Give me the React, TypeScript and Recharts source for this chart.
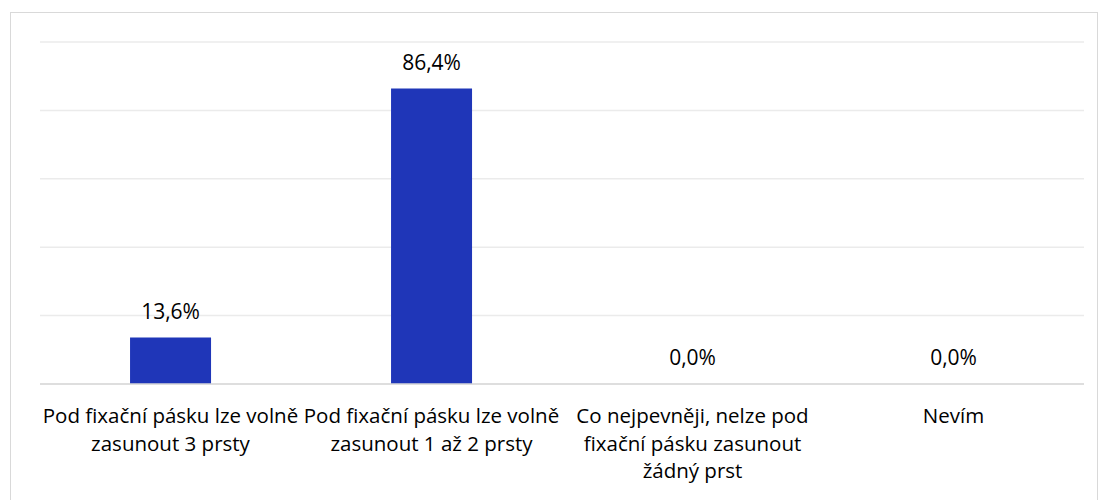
import { BarChart, Bar, XAxis, YAxis, CartesianGrid, LabelList } from "recharts";

const categories = [
  "Pod fixační pásku lze volně\nzasunout 3 prsty",
  "Pod fixační pásku lze volně\nzasunout 1 až 2 prsty",
  "Co nejpevněji, nelze pod\nfixační pásku zasunout\nžádný prst",
  "Nevím",
];
const shares = [13.6, 86.4, 0.0, 0.0];
const yTicks = [0, 20, 40, 60, 80, 100];

const data = categories.map((c, i) => ({ name: c, value: shares[i] }));

const FONT = "'Open Sans', sans-serif";

function CategoryTick({ x, y, payload }: any) {
  const lines = String(payload.value).split("\n");
  return (
    <text x={x} y={y} textAnchor="middle" fill="#000" fontSize={20.5} fontFamily={FONT}>
      {lines.map((l, i) => (
        <tspan key={i} x={x} dy={i === 0 ? 31 : 27.5}>{l}</tspan>
      ))}
    </text>
  );
}

export default function App() {
  return (
    <div style={{ position: "absolute", left: 0, top: 0, width: 1100, height: 500, overflow: "hidden", background: "#fff" }}>
      <div style={{ position: "absolute", left: 10, top: 12, width: 1086, height: 500, border: "1.5px solid #d9d9d9" }} />
      <div style={{ position: "absolute", left: 0, top: 0 }}>
        <BarChart width={1100} height={500} data={data} barCategoryGap="34.5%"
          margin={{ top: 42, right: 16, left: 40, bottom: 0 }}>
          <CartesianGrid stroke="#ebebeb" strokeWidth={1.5} vertical={false} />
          <YAxis hide domain={[0, 100]} ticks={yTicks} />
          <XAxis dataKey="name" height={116} interval={0} tick={<CategoryTick />}
            axisLine={{ stroke: "#d9d9d9", strokeWidth: 1.5 }} tickLine={false} />
          <Bar dataKey="value" fill="#1f36b8" isAnimationActive={false}
            minPointSize={(v: any) => (v === 0 ? 0.01 : 0)}>
            <LabelList dataKey="value" position="top" offset={18.5}
              style={{ fill: "#000", fontSize: 21, fontFamily: FONT }}
              formatter={(v: any) => `${(+v).toFixed(1).replace(".", ",")}%`} />
          </Bar>
        </BarChart>
      </div>
    </div>
  );
}
